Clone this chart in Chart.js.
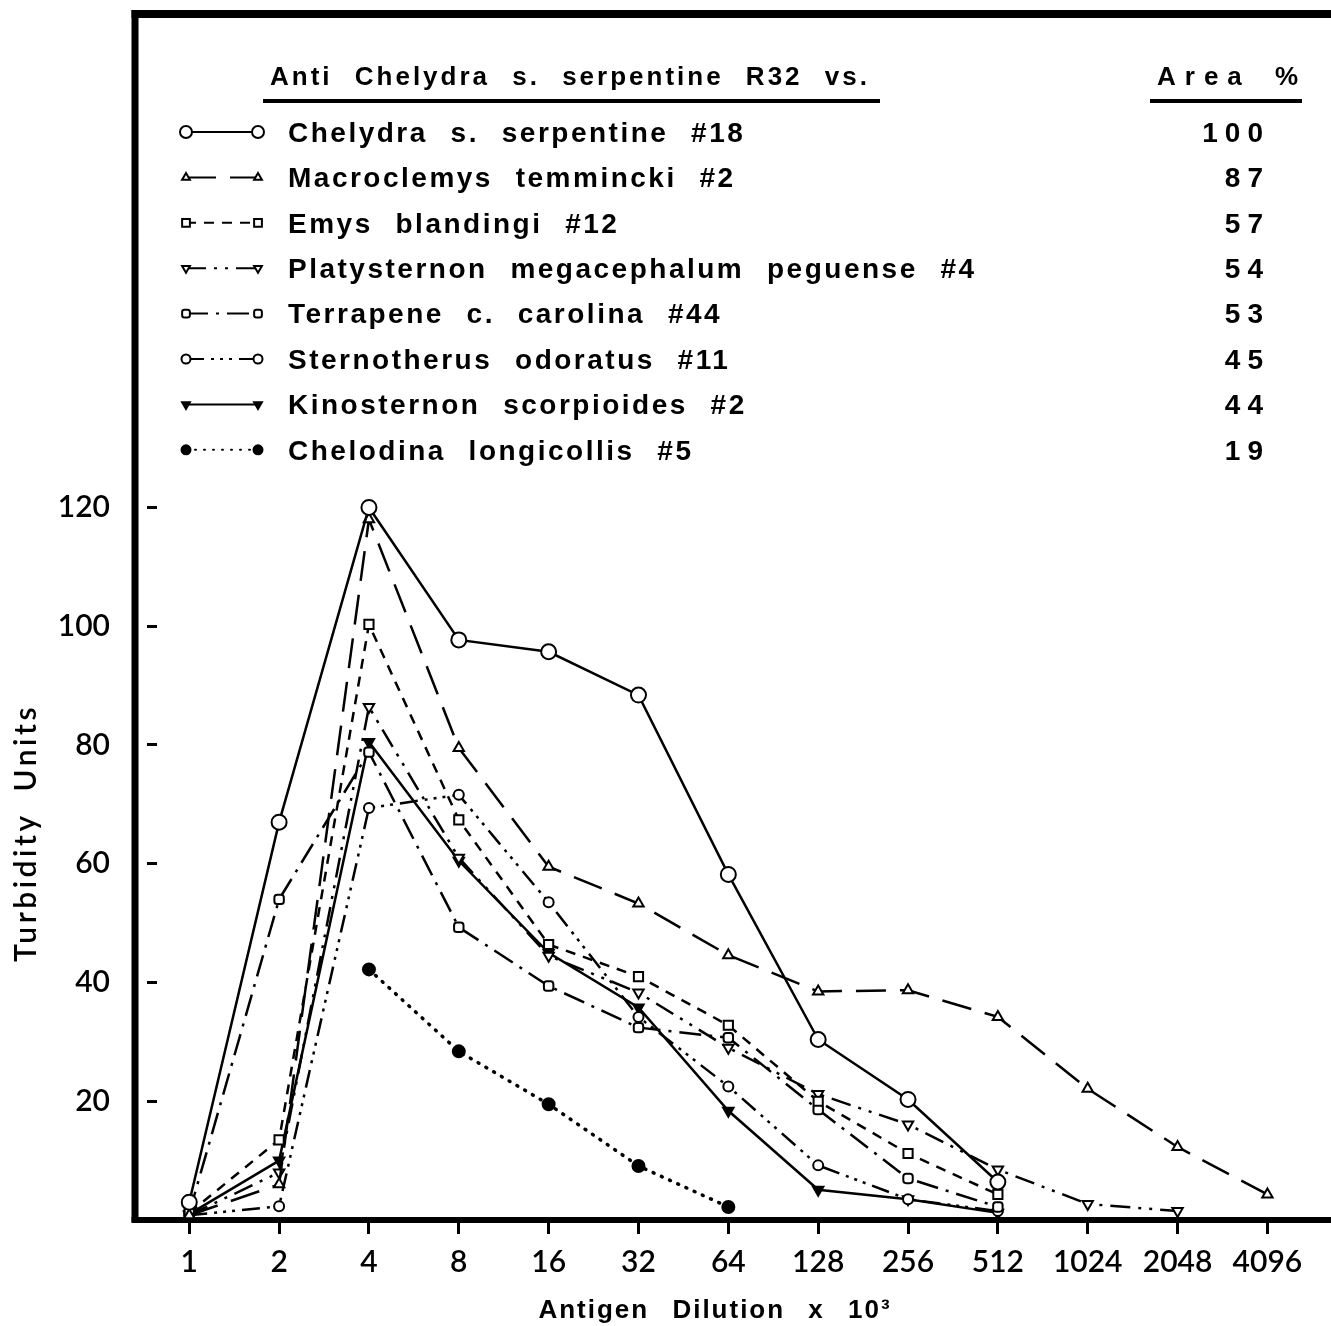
<!DOCTYPE html>
<html>
<head>
<meta charset="utf-8">
<script src="https://cdn.jsdelivr.net/npm/chart.js@4.4.1/dist/chart.umd.min.js"></script>
<style>
  html, body { margin: 0; padding: 0; background: #fff; }
</style>
</head>
<body>
<canvas id="chart" width="1331" height="1326"></canvas>
<script>
// antigen dilutions (x 10^3)
const dilutions = ['1', '2', '4', '8', '16', '32', '64', '128', '256', '512', '1024', '2048', '4096'];
const yTicks = [20, 40, 60, 80, 100, 120];

const speciesNames = [
  'Chelydra s. serpentine #18',
  'Macroclemys temmincki #2',
  'Emys blandingi #12',
  'Platysternon megacephalum peguense #4',
  'Terrapene c. carolina #44',
  'Sternotherus odoratus #11',
  'Kinosternon scorpioides #2',
  'Chelodina longicollis #5'
];
const areaPercent = ['100', '87', '57', '54', '53', '45', '44', '19'];

// turbidity units, one value per dilution
const chelydra     = [3, 67, 120, 97.7, 95.7, 88.4, 58.2, 30.4, 20.3, 6.4];
const macroclemys  = [0.8, 6, 118, 79.5, 59.5, 53.3, 44.6, 38.5, 38.7, 34.2, 22.1, 12.3, 4.3];
const emys         = [1.2, 13.5, 100.3, 67.4, 46.4, 41, 32.8, 20, 11.2, 4.3];
const platysternon = [0.8, 8, 86.4, 61, 44.5, 38.3, 29, 21.2, 16.1, 8.5, 2.7, 1.5];
const terrapene    = [1.2, 54, 78.8, 49.3, 39.4, 32.4, 30.7, 18.6, 7, 2.2];
const sternotherus = [0.8, 2.3, 69.4, 71.6, 53.5, 34.2, 22.5, 9.2, 3.5, 1.5];
const kinosternon  = [1, 10, 80.5, 60.5, 45, 35.8, 18.4, 5.1, 3.5, 1.2];
const chelodina    = [null, null, 42.2, 28.4, 19.5, 9.1, 2.2];

const tickFont = {family: 'Lato, "DejaVu Sans", sans-serif', size: 30, weight: '600'};

function series(label, values, style) {
  return Object.assign({
    label: label,
    data: values.map((v, i) => ({x: i, y: v})),
    borderColor: '#000',
    borderWidth: 2.5,
    borderDash: [],
    pointStyle: 'circle',
    pointRotation: 0,
    pointRadius: 6,
    pointBorderColor: '#000',
    pointBorderWidth: 2,
    pointBackgroundColor: '#fff',
    fill: false,
    tension: 0,
    clip: false,
    legendRadius: 4.5
  }, style);
}

const datasets = [
  series(speciesNames[0], chelydra, {pointRadius: 7.5, legendRadius: 6}),
  series(speciesNames[1], macroclemys, {borderDash: [30, 14], pointStyle: 'triangle', pointRadius: 6}),
  series(speciesNames[2], emys, {borderDash: [10, 8], pointStyle: 'rect', pointRadius: 6.5, legendRadius: 5.5}),
  series(speciesNames[3], platysternon, {borderDash: [20, 8, 3, 8, 3, 8], pointStyle: 'triangle', pointRotation: 180, pointRadius: 6}),
  series(speciesNames[4], terrapene, {borderDash: [22, 8, 3, 8], pointStyle: 'rectRounded', pointRadius: 5.5}),
  series(speciesNames[5], sternotherus, {borderDash: [18, 7, 3, 6, 3, 6, 3, 7], pointRadius: 5}),
  series(speciesNames[6], kinosternon, {pointStyle: 'triangle', pointRotation: 180, pointRadius: 6, pointBackgroundColor: '#000'}),
  series(speciesNames[7], chelodina, {borderDash: [1, 8], borderCapStyle: 'round', borderWidth: 3.5, pointRadius: 6, pointBackgroundColor: '#000'})
];

// frame, base line, header, legend and axis titles
const decorations = {
  id: 'decorations',
  beforeDatasetsDraw(chart) {
    const ctx = chart.ctx;
    const area = chart.chartArea;
    const frameX = area.left - 22;
    ctx.save();
    ctx.fillStyle = '#000';
    ctx.fillRect(frameX - 3.5, 10, chart.width - frameX + 3.5, 8);
    ctx.fillRect(frameX - 3.5, 10, 7, area.bottom - 8);
    ctx.fillRect(frameX - 3.5, area.bottom - 3, chart.width - frameX + 3.5, 6);
    ctx.restore();
  },
  afterDraw(chart) {
    const ctx = chart.ctx;
    ctx.save();
    ctx.fillStyle = '#000';
    ctx.textBaseline = 'middle';

    // header
    ctx.font = 'bold 26px "Liberation Sans", Arial, sans-serif';
    ctx.letterSpacing = '3px';
    ctx.wordSpacing = '12px';
    ctx.textAlign = 'left';
    ctx.fillText('Anti Chelydra s. serpentine R32 vs.', 270, 78);
    ctx.fillRect(263, 99, 617, 4);
    ctx.letterSpacing = '9px';
    ctx.wordSpacing = '8px';
    ctx.fillText('Area %', 1157, 78);
    ctx.fillRect(1150, 99, 152, 4);

    // legend entries
    chart.data.datasets.forEach((ds, i) => {
      const y = 134 + i * 45.4;
      const ly = y - 2;
      ctx.save();
      ctx.strokeStyle = '#000';
      ctx.lineWidth = 2;
      ctx.setLineDash(ds.borderDash);
      ctx.lineCap = ds.borderCapStyle || 'butt';
      ctx.beginPath();
      ctx.moveTo(186, ly);
      ctx.lineTo(258, ly);
      ctx.stroke();
      ctx.setLineDash([]);
      ctx.lineCap = 'butt';
      ctx.fillStyle = ds.pointBackgroundColor;
      const opts = {pointStyle: ds.pointStyle, rotation: ds.pointRotation, radius: ds.legendRadius, borderWidth: 2};
      Chart.helpers.drawPoint(ctx, opts, 186, ly);
      Chart.helpers.drawPoint(ctx, opts, 258, ly);
      ctx.restore();

      ctx.font = 'bold 28px "Liberation Sans", Arial, sans-serif';
      ctx.letterSpacing = '2.5px';
      ctx.wordSpacing = '12.5px';
      ctx.textAlign = 'left';
      ctx.fillText(ds.label, 288, y);
      ctx.letterSpacing = '7px';
      ctx.wordSpacing = '0px';
      ctx.textAlign = 'right';
      ctx.fillText(areaPercent[i], 1270, y);
    });

    // x title
    ctx.font = 'bold 26px "Liberation Sans", Arial, sans-serif';
    ctx.letterSpacing = '2px';
    ctx.wordSpacing = '14px';
    ctx.textAlign = 'center';
    ctx.fillText('Antigen Dilution x 10\u00B3', 715, 1311);

    // y title
    ctx.translate(26, 833);
    ctx.rotate(-Math.PI / 2);
    ctx.font = '600 30px Lato, "DejaVu Sans", sans-serif';
    ctx.letterSpacing = '3.5px';
    ctx.wordSpacing = '10px';
    ctx.fillText('Turbidity Units', 0, 0);
    ctx.restore();
  }
};

new Chart(document.getElementById('chart'), {
  type: 'line',
  data: {datasets: datasets},
  options: {
    responsive: false,
    animation: false,
    events: [],
    layout: {padding: {top: 14, left: 0, right: 0, bottom: 0}},
    plugins: {legend: {display: false}, tooltip: {enabled: false}},
    scales: {
      x: {
        type: 'linear',
        min: -0.359,
        max: 12.602,
        afterBuildTicks: s => { s.ticks = dilutions.map((d, i) => ({value: i})); },
        afterFit: s => { s.height = 106; },
        grid: {display: true, drawOnChartArea: false, drawTicks: true, tickLength: 14, lineWidth: 3, color: '#000'},
        border: {display: false},
        ticks: {
          callback: v => dilutions[v],
          autoSkip: false,
          maxRotation: 0,
          padding: 10,
          color: '#000',
          font: tickFont
        }
      },
      y: {
        type: 'linear',
        min: 0,
        max: 196.2,
        afterBuildTicks: s => { s.ticks = yTicks.map(v => ({value: v})); },
        afterFit: s => { s.width = 157; },
        grid: {display: true, drawOnChartArea: false, drawTicks: true, tickLength: 10, lineWidth: 3, color: '#000'},
        border: {display: false},
        ticks: {padding: 37, color: '#000', font: tickFont}
      }
    }
  },
  plugins: [decorations]
});
</script>
</body>
</html>
